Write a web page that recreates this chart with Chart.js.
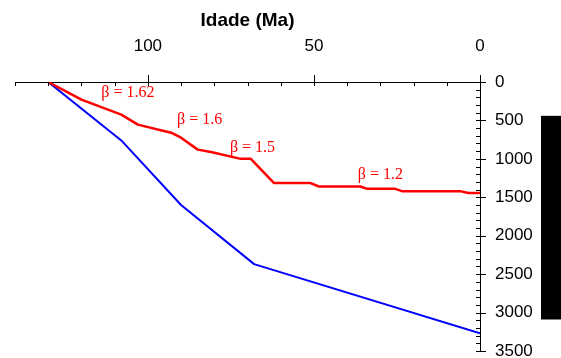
<!DOCTYPE html>
<html>
<head>
<meta charset="utf-8">
<script src="https://cdn.jsdelivr.net/npm/chart.js@4"></script>
<style>
  html, body { margin: 0; padding: 0; background: #fff; }
</style>
</head>
<body>
<canvas id="chart" width="561" height="358"></canvas>
<script>
// Curva de subsidencia (beta variavel)
const redAge = [130, 120, 108, 103, 93, 90, 85, 81, 72, 69, 62, 51, 48.5, 36, 34, 25.5, 23.5, 6, 3.5, 0];
const redDepth = [0, 230, 425, 555, 660, 725, 880, 910, 1000, 1000, 1315, 1315, 1360, 1360, 1390, 1390, 1420, 1420, 1445, 1445];

// Curva do embasamento
const blueAge = [130, 108, 90, 68, 0];
const blueDepth = [0, 760, 1600, 2370, 3270];

// Rotulos de beta
const betaText = ['β = 1.62', 'β = 1.6', 'β = 1.5', 'β = 1.2'];
const betaAge = [106, 84.4, 68.5, 30];
const betaDepth = [137, 489, 850, 1206];

// Eixos
const ageMin = 0, ageMax = 140;
const depthMin = 0, depthMax = 3500;
const ageLabelStep = 50;
const depthLabelStep = 500;

function toPoints(xs, ys) {
  return xs.map((x, i) => ({ x: x, y: ys[i] }));
}

Chart.defaults.font.family = '"Liberation Sans", Arial, sans-serif';
Chart.defaults.color = '#000';

// It is for tick marks, beta labels and the black bar
const extras = {
  id: 'extras',
  afterDatasetsDraw(chart) {
    const ctx = chart.ctx;
    const xs = chart.scales.x;
    const ys = chart.scales.y;
    ctx.save();
    ctx.font = '16px "Liberation Serif", "Times New Roman", serif';
    ctx.fillStyle = '#ff0000';
    ctx.textAlign = 'center';
    ctx.textBaseline = 'middle';
    betaText.forEach((t, i) => {
      ctx.fillText(t, xs.getPixelForValue(betaAge[i]), ys.getPixelForValue(betaDepth[i]));
    });
    ctx.restore();
  },
  afterDraw(chart) {
    const ctx = chart.ctx;
    const xs = chart.scales.x;
    const ys = chart.scales.y;
    const area = chart.chartArea;
    ctx.save();
    ctx.strokeStyle = '#000';
    ctx.lineWidth = 1;
    ctx.beginPath();
    xs.ticks.forEach(t => {
      const px = Math.round(xs.getPixelForValue(t.value)) + 0.5;
      const major = t.value % ageLabelStep === 0;
      ctx.moveTo(px, area.top + 4);
      ctx.lineTo(px, area.top - (major ? 7 : 0));
    });
    ys.ticks.forEach(t => {
      const py = Math.round(ys.getPixelForValue(t.value)) + 0.5;
      const major = t.value % depthLabelStep === 0;
      ctx.moveTo(area.right - 4, py);
      ctx.lineTo(area.right + (major ? 6 : 0), py);
    });
    ctx.stroke();

    // barra preta a direita
    const top = ys.getPixelForValue(440);
    const bottom = ys.getPixelForValue(3090);
    ctx.fillStyle = '#000';
    ctx.fillRect(chart.width - 20, top, 20, bottom - top);
    ctx.restore();
  }
};

function noPadding(s) {
  s.paddingLeft = 0;
  s.paddingRight = 0;
  s.paddingTop = 0;
  s.paddingBottom = 0;
}

const ctx = document.getElementById('chart').getContext('2d');

new Chart(ctx, {
  type: 'line',
  data: {
    datasets: [{
      data: toPoints(redAge, redDepth),
      borderColor: '#ff0000',
      borderWidth: 2.5,
      pointRadius: 0,
      tension: 0,
      borderJoinStyle: 'round'
    }, {
      data: toPoints(blueAge, blueDepth),
      borderColor: '#0000ff',
      borderWidth: 2,
      pointRadius: 0,
      tension: 0,
      borderJoinStyle: 'round'
    }]
  },
  options: {
    responsive: false,
    animation: false,
    layout: { padding: { left: 15, right: 0, top: 0, bottom: 7 } },
    plugins: {
      legend: { display: false },
      tooltip: { enabled: false }
    },
    scales: {
      x: {
        type: 'linear',
        position: 'top',
        min: ageMin,
        max: ageMax,
        reverse: true,
        afterFit(s) { s.height = 82; noPadding(s); },
        grid: { drawOnChartArea: false, drawTicks: false },
        border: { display: true, color: '#000', width: 1 },
        title: {
          display: true,
          text: 'Idade (Ma)',
          font: { size: 19, weight: 'bold' },
          padding: { top: 9, bottom: 0 }
        },
        ticks: {
          stepSize: 10,
          autoSkip: false,
          maxRotation: 0,
          padding: 25,
          font: { size: 17 },
          callback: v => (v % ageLabelStep === 0 ? v : '')
        }
      },
      y: {
        type: 'linear',
        position: 'right',
        min: depthMin,
        max: depthMax,
        reverse: true,
        afterFit(s) { s.width = 81; noPadding(s); },
        grid: { drawOnChartArea: false, drawTicks: false },
        border: { display: true, color: '#000', width: 1 },
        ticks: {
          stepSize: 100,
          autoSkip: false,
          padding: 15,
          font: { size: 17 },
          callback: v => (v % depthLabelStep === 0 ? v : '')
        }
      }
    }
  },
  plugins: [extras]
});
</script>
</body>
</html>
